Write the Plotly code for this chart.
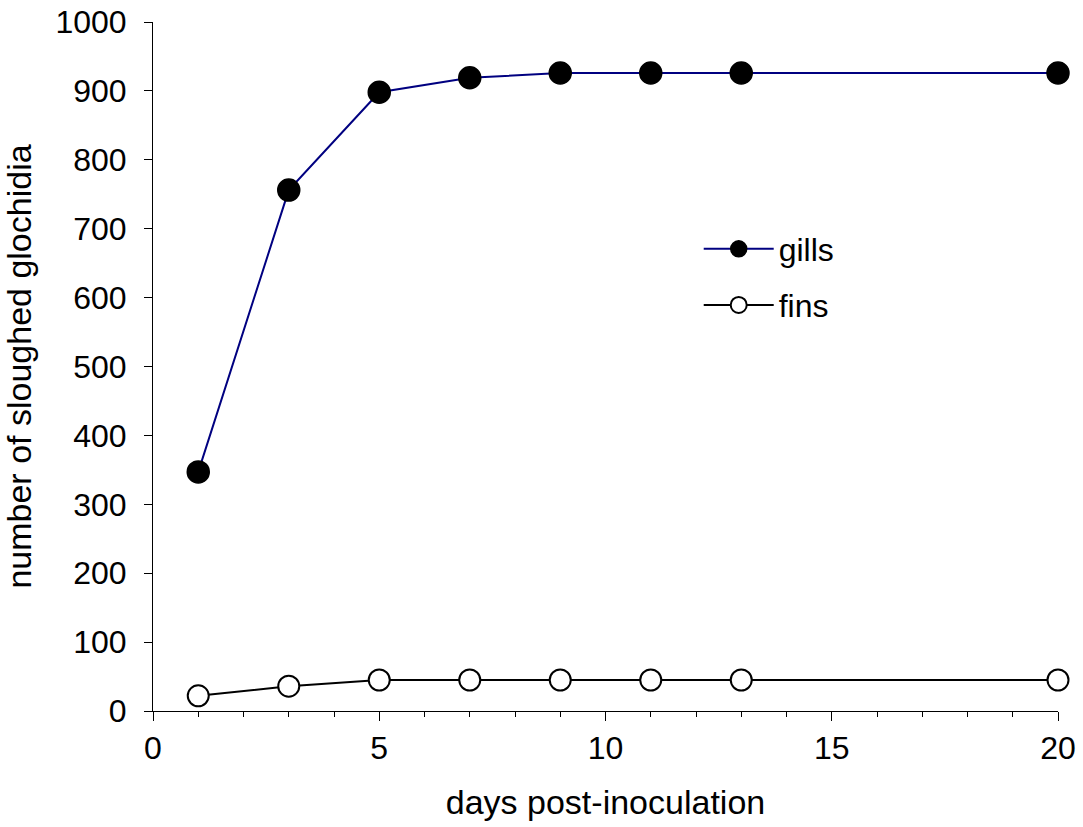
import plotly.graph_objects as go

days = [1, 3, 5, 7, 9, 11, 13, 20]
gills = [347, 756, 898, 919, 926, 926, 926, 926]
fins = [22, 36, 45, 45, 45, 45, 45, 45]

FONT = "Liberation Sans, Arial, sans-serif"

fig = go.Figure()
fig.add_trace(go.Scatter(
    x=days, y=gills, name="gills", mode="lines+markers",
    line=dict(color="#000080", width=2),
    marker=dict(symbol="circle", size=22, color="black", line=dict(color="black", width=1.5)),
    legend="legend", cliponaxis=False,
))
fig.add_trace(go.Scatter(
    x=days, y=fins, name="fins", mode="lines+markers",
    line=dict(color="black", width=2),
    marker=dict(symbol="circle", size=21, color="white", line=dict(color="black", width=2)),
    legend="legend2", cliponaxis=False,
))

leg_common = dict(font=dict(family=FONT, size=32, color="black"), bgcolor="rgba(0,0,0,0)",
                  itemwidth=70, xanchor="left", yanchor="middle", visible=True)
fig.update_layout(
    width=1083, height=827,
    showlegend=True,
    margin=dict(l=153, r=25, t=22, b=116, autoexpand=False),
    paper_bgcolor="white", plot_bgcolor="white",
    font=dict(family=FONT, size=32, color="black"),
    legend=dict(x=0.603, y=0.6705, **leg_common),
    legend2=dict(x=0.603, y=0.589, **leg_common),
    xaxis=dict(
        range=[0, 20], tickmode="linear", tick0=0, dtick=5,
        showline=True, linecolor="black", linewidth=1,
        ticks="outside", ticklen=9, tickwidth=1, tickcolor="black",
        minor=dict(dtick=1, ticks="outside", ticklen=5, tickcolor="black", tickwidth=1),
        showgrid=False, zeroline=False,
        tickfont=dict(family=FONT, size=32),
        title=dict(text="days post-inoculation", font=dict(family=FONT, size=34), standoff=24),
    ),
    yaxis=dict(
        range=[0, 1000], tickmode="linear", tick0=0, dtick=100,
        showline=True, linecolor="black", linewidth=1,
        ticks="outside", ticklen=8, tickwidth=1, tickcolor="black",
        ticklabelstandoff=11,
        showgrid=False, zeroline=False,
        tickfont=dict(family=FONT, size=32),
        title=dict(text="number of sloughed glochidia", font=dict(family=FONT, size=34), standoff=13),
    ),
)

fig.write_html("out.html")
